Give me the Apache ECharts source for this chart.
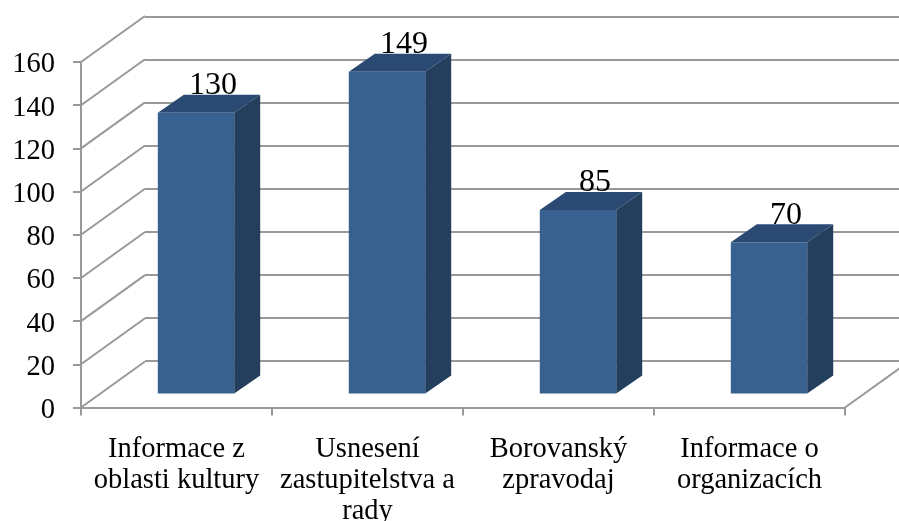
<!DOCTYPE html>
<html><head><meta charset="utf-8">
<style>html,body{margin:0;padding:0;background:#fff}#c{width:899px;height:521px;filter:blur(0.45px)}</style>
<script src="https://cdn.jsdelivr.net/npm/echarts@6/dist/echarts.min.js"></script>
</head><body><div id="c"></div>
<script>
var categories = ["Informace z\noblasti kultury", "Usnesení\nzastupitelstva a\nrady", "Borovanský\nzpravodaj", "Informace o\norganizacích"];
var values = [130, 149, 85, 70];
var yTicks = [0, 20, 40, 60, 80, 100, 120, 140, 160];

var FONT = '"Liberation Serif","Times New Roman",serif';
var GRID = '#999999';
var WALL_DX = 64, WALL_DY = -46;
var BAR_DX = 19.5, BAR_DY = -14, SIDE_DX = 26, SIDE_DY = -18;
var BAR_RATIO = 0.4;

var chart = echarts.init(document.getElementById('c'), null, {renderer: 'canvas'});

function renderWall(params, api) {
  var cs = params.coordSys;
  var v = api.value(1);
  var y = api.coord([0, v])[1];
  var items = [{
    type: 'line',
    shape: {x1: cs.x, y1: y, x2: cs.x + WALL_DX, y2: y + WALL_DY},
    style: {stroke: GRID, lineWidth: 2}
  }];
  if (v === 0) {
    items.push({
      type: 'line',
      shape: {x1: cs.x + cs.width, y1: y, x2: cs.x + cs.width + WALL_DX, y2: y + WALL_DY},
      style: {stroke: GRID, lineWidth: 2}
    });
  }
  return {type: 'group', children: items};
}

function renderBar(params, api) {
  var i = api.value(0), v = api.value(1);
  var top = api.coord([i, v]), base = api.coord([i, 0]);
  var w = api.size([1, 0])[0] * BAR_RATIO;
  var l = top[0] - w / 2 + BAR_DX, r = l + w;
  var t = top[1] + BAR_DY, b = base[1] + BAR_DY;
  return {type: 'group', children: [
    {type: 'polygon', shape: {points: [[l, t], [r, t], [r + SIDE_DX, t + SIDE_DY], [l + SIDE_DX, t + SIDE_DY]]},
     style: {fill: '#2A4A73'}},
    {type: 'polygon', shape: {points: [[r, t], [r + SIDE_DX, t + SIDE_DY], [r + SIDE_DX, b + SIDE_DY], [r, b]]},
     style: {fill: '#243F5E'}},
    {type: 'rect', shape: {x: l, y: t, width: w, height: b - t},
     style: {fill: '#38618F'}},
    {type: 'text', z2: 10, style: {
      x: (l + r) / 2 + 17, y: t - 11, text: String(v),
      font: '32px ' + FONT, fill: '#000', align: 'center', verticalAlign: 'bottom'
    }}
  ]};
}

chart.setOption({
  animation: false,
  backgroundColor: '#fff',
  grid: [
    {left: 81, top: 62, width: 764, height: 345.5, outerBoundsMode: 'none'},
    {left: 145, top: 17, width: 754, height: 344, outerBoundsMode: 'none'}
  ],
  xAxis: [
    {type: 'category', gridIndex: 0, data: categories, boundaryGap: true,
     axisLine: {lineStyle: {color: GRID, width: 2}},
     axisTick: {show: true, length: 8, alignWithLabel: false, lineStyle: {color: GRID, width: 2}},
     axisLabel: {interval: 0, margin: 27, fontFamily: FONT, fontSize: 28.5, lineHeight: 31, color: '#000', hideOverlap: false},
     splitLine: {show: false}},
    {type: 'value', gridIndex: 1, min: 0, max: 1,
     axisLine: {show: false}, axisTick: {show: false}, axisLabel: {show: false}, splitLine: {show: false}}
  ],
  yAxis: [
    {type: 'value', gridIndex: 0, min: yTicks[0], max: yTicks[yTicks.length - 1], interval: yTicks[1] - yTicks[0],
     axisLine: {show: true, lineStyle: {color: GRID, width: 2}},
     axisTick: {show: true, length: 8, lineStyle: {color: GRID, width: 2}},
     axisLabel: {margin: 26, fontFamily: FONT, fontSize: 28.5, color: '#000', verticalAlign: 'top', lineHeight: 6},
     splitLine: {show: false}},
    {type: 'value', gridIndex: 1, min: yTicks[0], max: yTicks[yTicks.length - 1], interval: yTicks[1] - yTicks[0],
     axisLine: {show: false}, axisTick: {show: false}, axisLabel: {show: false},
     splitLine: {show: true, lineStyle: {color: GRID, width: 2}}}
  ],
  series: [
    {type: 'custom', xAxisIndex: 0, yAxisIndex: 0, clip: false, z: 1, silent: true,
     data: yTicks.map(function (t) { return [0, t]; }), renderItem: renderWall},
    {type: 'custom', xAxisIndex: 0, yAxisIndex: 0, clip: false, z: 5, silent: true,
     data: values.map(function (v, i) { return [i, v]; }), renderItem: renderBar}
  ]
});
</script></body></html>
